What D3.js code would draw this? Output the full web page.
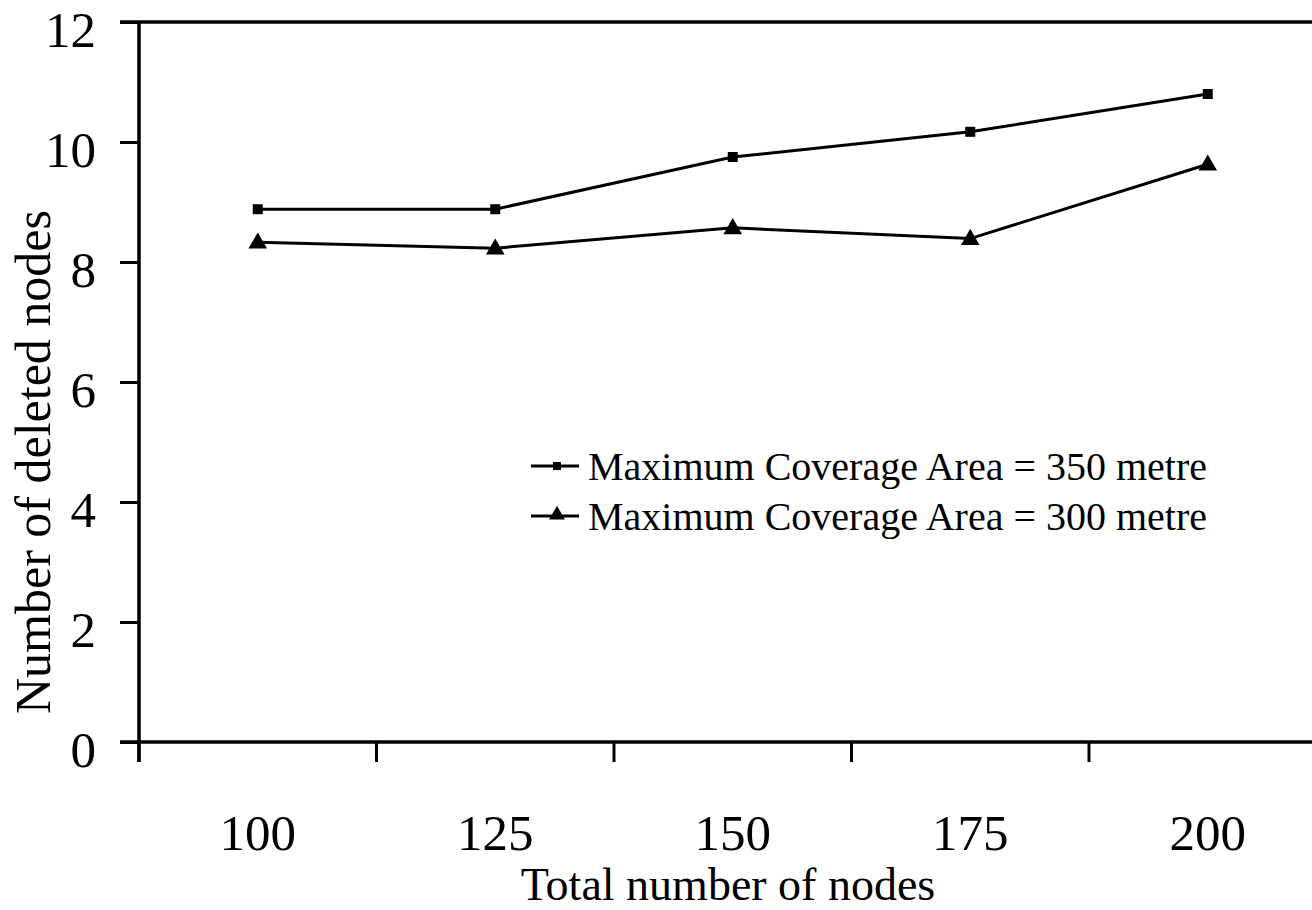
<!DOCTYPE html>
<html>
<head>
<meta charset="utf-8">
<script src="https://cdn.jsdelivr.net/npm/d3@7"></script>
<style>
    body { margin: 0; background: #fff; }
    svg text { font-family: "Liberation Serif", "Times New Roman", serif; fill: #000; }
</style>
</head>
<body>
<div id="chart"></div>
<script>
// data
const nodeCounts = ["100", "125", "150", "175", "200"];
const deleted350 = [8.88, 8.88, 9.75, 10.17, 10.8];
const deleted300 = [8.33, 8.23, 8.57, 8.39, 9.63];
const yTicks = [0, 2, 4, 6, 8, 10, 12];
const seriesNames = ["Maximum Coverage Area = 350 metre", "Maximum Coverage Area = 300 metre"];

const width = 1312, height = 910;
const plotLeft = 139, plotTop = 22, plotBottom = 742;
const band = 237.5;

const svg = d3.select("#chart").append("svg")
    .attr("width", width)
    .attr("height", height);

const x = d3.scaleBand()
    .domain(nodeCounts)
    .range([plotLeft, plotLeft + band * nodeCounts.length]);

const y = d3.scaleLinear()
    .domain([0, 12])
    .range([plotBottom, plotTop]);

// y axis ticks + labels
const yAxis = svg.append("g")
    .attr("transform", "translate(" + plotLeft + ",0)")
    .call(d3.axisLeft(y).tickValues(yTicks).tickSize(19).tickPadding(24).tickFormat(d3.format("d")));
yAxis.select(".domain").remove();
yAxis.selectAll("line").attr("stroke", "#000").attr("stroke-width", 3);
yAxis.selectAll("text")
    .attr("dy", 24)
    .style("font-size", "51px");

// x axis labels (centred in bands)
const xAxis = svg.append("g")
    .attr("transform", "translate(0," + plotBottom + ")")
    .call(d3.axisBottom(x).tickSize(0).tickPadding(72));
xAxis.select(".domain").remove();
xAxis.selectAll("text").style("font-size", "51px");

// x ticks sit on band boundaries
svg.append("g").selectAll("line")
    .data(nodeCounts)
    .enter().append("line")
    .attr("x1", d => x(d)).attr("x2", d => x(d))
    .attr("y1", plotBottom).attr("y2", plotBottom + 20)
    .attr("stroke", "#000").attr("stroke-width", 3);

// frame lines
svg.append("line")
    .attr("x1", 120).attr("x2", width)
    .attr("y1", plotBottom).attr("y2", plotBottom)
    .attr("stroke", "#000").attr("stroke-width", 3.5);
svg.append("line")
    .attr("x1", 120).attr("x2", width)
    .attr("y1", plotTop).attr("y2", plotTop)
    .attr("stroke", "#000").attr("stroke-width", 3.5);
svg.append("line")
    .attr("x1", plotLeft).attr("x2", plotLeft)
    .attr("y1", plotTop).attr("y2", plotBottom + 20)
    .attr("stroke", "#000").attr("stroke-width", 3.5);

const cx = d => x(d) + x.bandwidth() / 2;

const line = d3.line()
    .x(d => cx(d.n))
    .y(d => y(d.v));

const s350 = nodeCounts.map((n, i) => ({ n: n, v: deleted350[i] }));
const s300 = nodeCounts.map((n, i) => ({ n: n, v: deleted300[i] }));

svg.append("path")
    .datum(s350)
    .attr("fill", "none")
    .attr("stroke", "#000")
    .attr("stroke-width", 3)
    .attr("d", line);

svg.append("path")
    .datum(s300)
    .attr("fill", "none")
    .attr("stroke", "#000")
    .attr("stroke-width", 3)
    .attr("d", line);

const square = d3.symbol().type(d3.symbolSquare).size(100);
const triangle = d3.symbol().type(d3.symbolTriangle).size(150);

svg.selectAll(".sq")
    .data(s350)
    .enter().append("path")
    .attr("class", "sq")
    .attr("d", square)
    .attr("transform", d => "translate(" + cx(d.n) + "," + y(d.v) + ")")
    .attr("fill", "#000");

svg.selectAll(".tri")
    .data(s300)
    .enter().append("path")
    .attr("class", "tri")
    .attr("d", triangle)
    .attr("transform", d => "translate(" + cx(d.n) + "," + (y(d.v) + 1) + ")")
    .attr("fill", "#000");

// legend
const legend = svg.append("g").attr("transform", "translate(531,466)");
const legendSymbols = [
    d3.symbol().type(d3.symbolSquare).size(64),
    d3.symbol().type(d3.symbolTriangle).size(110)
];
seriesNames.forEach((name, i) => {
    const row = legend.append("g").attr("transform", "translate(0," + i * 50 + ")");
    row.append("line")
        .attr("x1", 0).attr("x2", 48)
        .attr("y1", 0).attr("y2", 0)
        .attr("stroke", "#000").attr("stroke-width", 3);
    row.append("path")
        .attr("d", legendSymbols[i])
        .attr("transform", "translate(26," + (i === 0 ? 0 : -1) + ")")
        .attr("fill", "#000");
    row.append("text")
        .attr("x", 57)
        .attr("y", 14)
        .style("font-size", "40px")
        .text(name);
});

// axis titles
svg.append("text")
    .attr("x", 728)
    .attr("y", 900)
    .attr("text-anchor", "middle")
    .style("font-size", "46px")
    .text("Total number of nodes");

svg.append("text")
    .attr("transform", "translate(50,462) rotate(-90)")
    .attr("text-anchor", "middle")
    .style("font-size", "50px")
    .text("Number of deleted nodes");
</script>
</body>
</html>
